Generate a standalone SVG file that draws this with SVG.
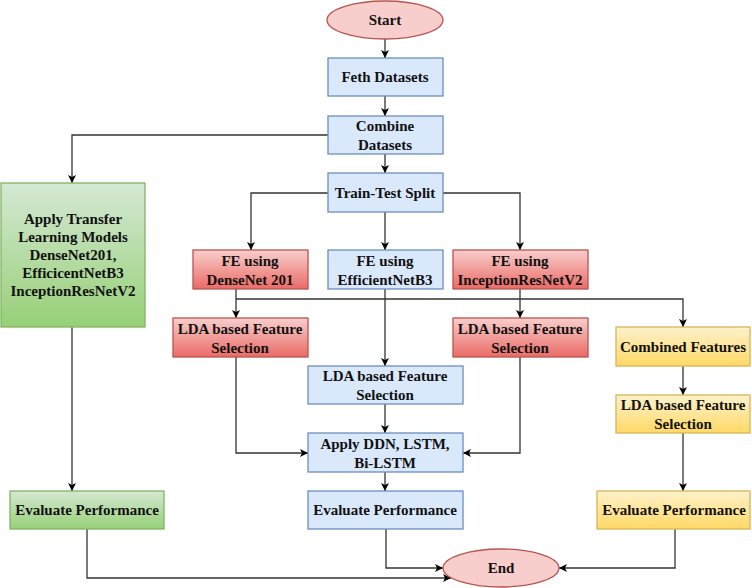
<svg xmlns="http://www.w3.org/2000/svg" width="752" height="588" viewBox="0 0 752 588">
<defs>
<linearGradient id="gRed" x1="0" y1="0" x2="0" y2="1"><stop offset="0" stop-color="#f8cecc"/><stop offset="1" stop-color="#ea6b66"/></linearGradient>
<linearGradient id="gGreen" x1="0" y1="0" x2="0" y2="1"><stop offset="0" stop-color="#d5e8d4"/><stop offset="1" stop-color="#97d077"/></linearGradient>
<linearGradient id="gYellow" x1="0" y1="0" x2="0" y2="1"><stop offset="0" stop-color="#fff2cc"/><stop offset="1" stop-color="#ffd966"/></linearGradient>
<marker id="arr" markerUnits="userSpaceOnUse" markerWidth="10" markerHeight="10" viewBox="0 0 10 10" refX="9" refY="5" orient="auto">
<path d="M1,1 L9,5 L1,9 L3,5 z" fill="#000"/>
</marker>
<style>
.blue{fill:#dae8fc;stroke:#6c8ebf;stroke-width:1.3}
.red{fill:url(#gRed);stroke:#b85450;stroke-width:1.3}
.green{fill:url(#gGreen);stroke:#82b366;stroke-width:1.3}
.yellow{fill:url(#gYellow);stroke:#d6b656;stroke-width:1.3}
.term{fill:#f8cecc;stroke:#b85450;stroke-width:1.3}
text{font-family:"Liberation Serif","Times New Roman",serif;font-weight:bold;font-size:15px;fill:#111;text-anchor:middle}
.c path{fill:none;stroke:#333;stroke-width:1.3;marker-end:url(#arr)}
.c path.n{marker-end:none}
</style>
</defs>
<g class="c" id="connectors">
<path d="M385,39 V58"/>
<path d="M385,96 V116"/>
<path d="M385,154 V173"/>
<path d="M328,135 H72 V183"/>
<path d="M328,193 H251 V250"/>
<path d="M385,212 V250"/>
<path d="M443,193 H520 V250"/>
<path d="M236,289 V318"/>
<path d="M236,299 H683 V327"/>
<path d="M385,289 V366"/>
<path d="M520,289 V318"/>
<path d="M236,357 V453 H308"/>
<path d="M520,357 V453 H463"/>
<path d="M385,404 V433"/>
<path d="M385,472 V491"/>
<path d="M386,529 V568 H443"/>
<path d="M72,327 V491"/>
<path d="M87,529 V578 H451"/>
<path d="M683,366 V395"/>
<path d="M683,433 V491"/>
<path d="M675,529 V568 H559"/>
</g>
<g id="start"><ellipse class="term" cx="385" cy="20" rx="58" ry="19"/><text x="385" y="25">Start</text></g>
<g id="feth"><rect class="blue" x="328" y="58" width="115" height="38"/><text x="385" y="82">Feth Datasets</text></g>
<g id="combine"><rect class="blue" x="328" y="116" width="115" height="38"/><text x="385" y="131">Combine</text><text x="385" y="150">Datasets</text></g>
<g id="split"><rect class="blue" x="328" y="173" width="115" height="39"/><text x="385" y="198">Train-Test Split</text></g>
<g id="transfer"><rect class="green" x="1" y="183" width="144" height="144"/>
<text x="73" y="224">Apply Transfer</text><text x="73" y="242">Learning Models</text><text x="73" y="260">DenseNet201,</text><text x="73" y="278">EfficicentNetB3</text><text x="73" y="296">InceptionResNetV2</text></g>
<g id="fe-dense"><rect class="red" x="193" y="250" width="115" height="39"/><text x="250" y="266">FE using</text><text x="250" y="285">DenseNet 201</text></g>
<g id="fe-eff"><rect class="blue" x="328" y="250" width="115" height="39"/><text x="385" y="266">FE using</text><text x="385" y="285">EfficientNetB3</text></g>
<g id="fe-inc"><rect class="red" x="453" y="250" width="135" height="39"/><text x="520" y="266">FE using</text><text x="520" y="285">InceptionResNetV2</text></g>
<g id="lda-dense"><rect class="red" x="173" y="318" width="135" height="39"/><text x="240" y="334">LDA based Feature</text><text x="240" y="353">Selection</text></g>
<g id="lda-inc"><rect class="red" x="453" y="318" width="135" height="39"/><text x="520" y="334">LDA based Feature</text><text x="520" y="353">Selection</text></g>
<g id="combined"><rect class="yellow" x="616" y="327" width="134" height="39"/><text x="683" y="352">Combined Features</text></g>
<g id="lda-eff"><rect class="blue" x="308" y="366" width="155" height="38"/><text x="385" y="381">LDA based Feature</text><text x="385" y="400">Selection</text></g>
<g id="lda-comb"><rect class="yellow" x="616" y="395" width="134" height="38"/><text x="683" y="410">LDA based Feature</text><text x="683" y="429">Selection</text></g>
<g id="apply"><rect class="blue" x="308" y="433" width="155" height="39"/><text x="385" y="449">Apply DDN, LSTM,</text><text x="385" y="468">Bi-LSTM</text></g>
<g id="eval-green"><rect class="green" x="10" y="491" width="154" height="38"/><text x="87" y="515">Evaluate Performance</text></g>
<g id="eval-blue"><rect class="blue" x="308" y="491" width="155" height="38"/><text x="385" y="515">Evaluate Performance</text></g>
<g id="eval-yellow"><rect class="yellow" x="597" y="491" width="153" height="38"/><text x="674" y="515">Evaluate Performance</text></g>
<g id="end"><ellipse class="term" cx="501" cy="568" rx="58" ry="19"/><text x="501" y="573">End</text></g>
</svg>
